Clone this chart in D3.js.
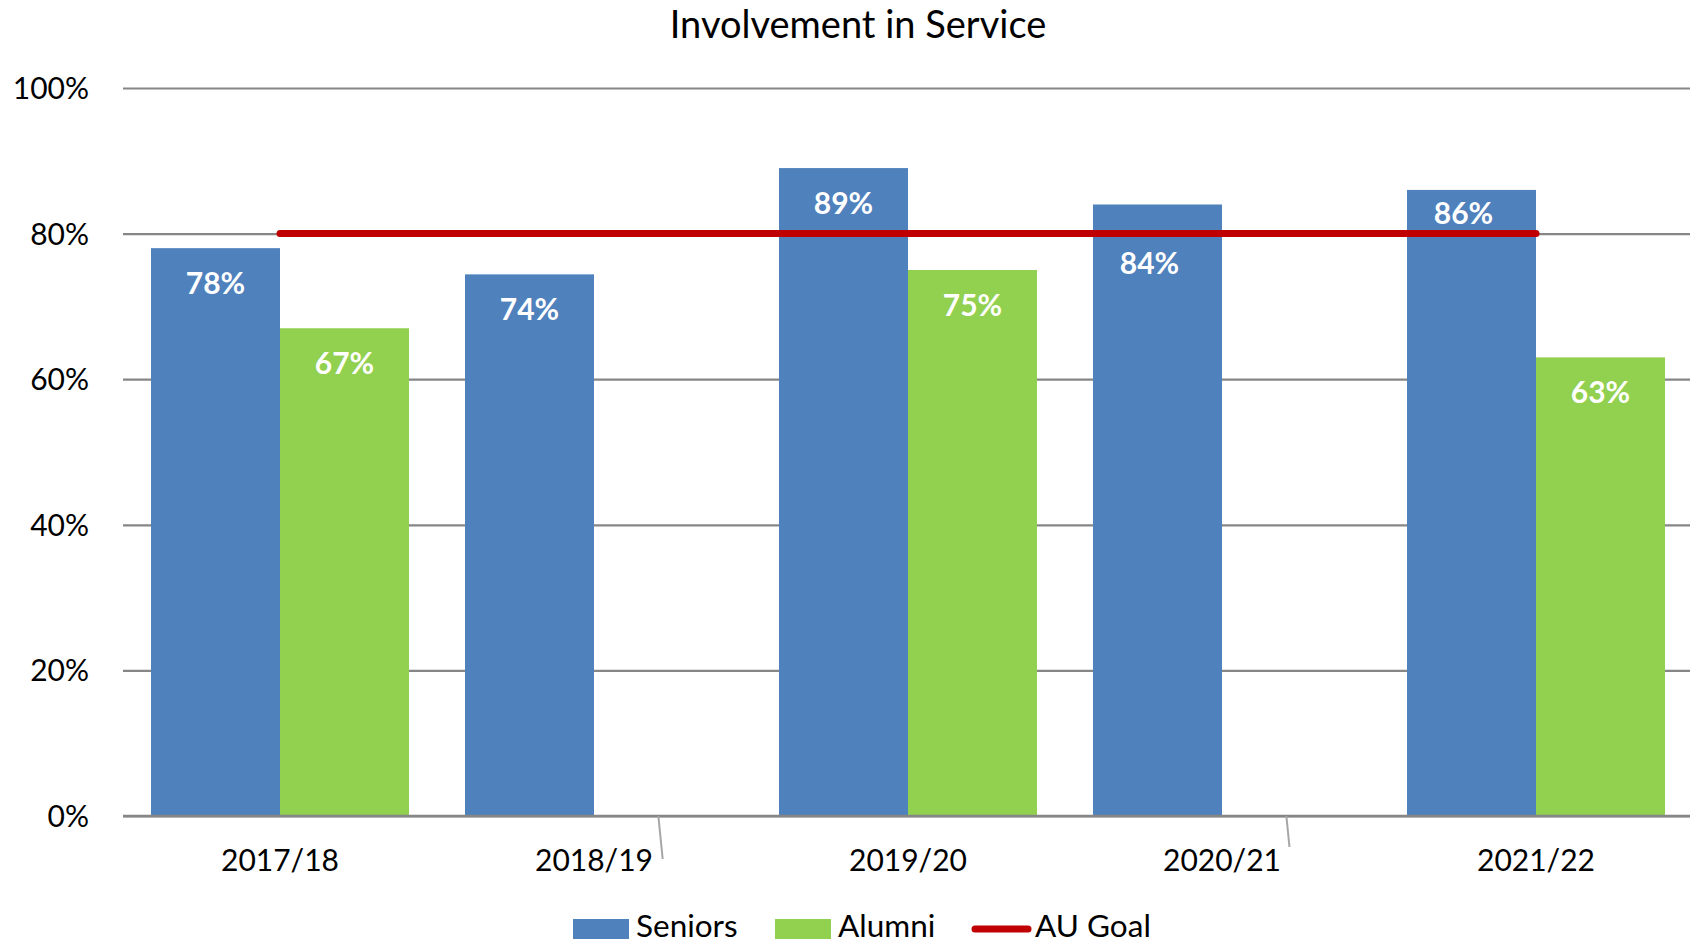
<!DOCTYPE html>
<html>
<head>
<meta charset="utf-8">
<script src="https://cdn.jsdelivr.net/npm/d3@7/dist/d3.min.js"></script>
<style>
  html, body { margin: 0; padding: 0; background: #fff; }
  svg { display: block; font-family: Lato, "Open Sans", sans-serif; }
</style>
</head>
<body>
<svg id="chart" width="1690" height="945"></svg>
<script>
const categories = ["2017/18", "2018/19", "2019/20", "2020/21", "2021/22"];
const seniors = [78, 74.4, 89, 84, 86];
const alumni = [67, null, 75, null, 63];
const goal = [80, 80, 80, 80, 80];
const yTicks = [0, 20, 40, 60, 80, 100];
const seriesNames = ["Seniors", "Alumni"];
const legendNames = ["Seniors", "Alumni", "AU Goal"];
const title = "Involvement in Service";

const colors = { Seniors: "#4F81BD", Alumni: "#92D050", goal: "#C00000", grid: "#868686" };
const W = 1690, H = 945;
const plot = { left: 123, right: 1693, top: 88, bottom: 816 };

const svg = d3.select("#chart");

const x = d3.scaleBand().domain(categories).range([plot.left, plot.right]).paddingInner(0).paddingOuter(0);
const x1 = d3.scaleBand().domain(seriesNames).range([0, x.bandwidth()]).paddingInner(0).paddingOuter(0.217);
const y = d3.scaleLinear().domain([0, 100]).range([plot.bottom, plot.top]);
const fmt = v => d3.format(".0f")(v) + "%";

// title
svg.append("text").attr("x", 858).attr("y", 38).attr("text-anchor", "middle")
  .attr("font-size", 38).attr("fill", "#000").text(title);

// gridlines + y labels
const yAxis = d3.axisLeft(y).tickValues(yTicks).tickSize(-(W - plot.left)).tickPadding(34)
  .tickFormat(d => d + "%");
const gy = svg.append("g").attr("transform", `translate(${plot.left},0)`).call(yAxis);
gy.select(".domain").remove();
gy.selectAll(".tick line").attr("stroke", colors.grid).attr("stroke-width", 2.2);
gy.selectAll(".tick text").attr("font-size", 30).attr("fill", "#000")
  .attr("font-family", "Lato, sans-serif").attr("dy", "0.35em");

// bars
const data = categories.map((c, i) => ({ c, Seniors: seniors[i], Alumni: alumni[i] }));
const groups = svg.append("g").selectAll("g").data(data).join("g")
  .attr("transform", d => `translate(${x(d.c)},0)`);
groups.selectAll("rect").data(d => seriesNames.filter(k => d[k] != null).map(k => ({ k, v: d[k] })))
  .join("rect")
  .attr("x", d => x1(d.k)).attr("width", x1.bandwidth())
  .attr("y", d => y(d.v)).attr("height", d => y(0) - y(d.v))
  .attr("fill", d => colors[d.k]);

// x axis
const xAxis = d3.axisBottom(x).tickSize(0).tickPadding(44);
const gx = svg.append("g").attr("transform", `translate(0,${plot.bottom})`).call(xAxis);
gx.select(".domain").remove();
gx.selectAll(".tick text").attr("font-size", 30).attr("fill", "#000").attr("font-family", "Lato, sans-serif")
  .attr("dy", "0.35em").attr("y", 44);
svg.append("line").attr("x1", plot.left).attr("x2", W).attr("y1", y(0)).attr("y2", y(0))
  .attr("stroke", colors.grid).attr("stroke-width", 2.5);

// stray slanted tick marks near 2018/19 and 2020/21
[{ c: "2018/19", len: 43 }, { c: "2020/21", len: 31 }].forEach(t => {
  const cx = x(t.c) + x.bandwidth() / 2 + x.bandwidth() * 0.205;
  svg.append("line").attr("x1", cx).attr("y1", y(0)).attr("x2", cx + t.len * 0.1).attr("y2", y(0) + t.len)
    .attr("stroke", "#a6a6a6").attr("stroke-width", 2);
});

// goal line
const line = d3.line().x((d, i) => x(categories[i]) + x.bandwidth() / 2).y(d => y(d));
svg.append("path").datum(goal).attr("d", line).attr("fill", "none")
  .attr("stroke", colors.goal).attr("stroke-width", 7).attr("stroke-linecap", "round");

// value labels (moved clear of the goal line where they would collide)
const goalY = y(goal[0]);
const labelG = svg.append("g");
data.forEach(d => {
  seriesNames.forEach(k => {
    if (d[k] == null) return;
    const top = y(d[k]);
    let cy = top + 35.6, dx = 0;
    if (Math.abs(cy - goalY) < 22) {
      dx = -8;
      if (goalY - top >= 40) cy = (top + goalY) / 2 + 1.5;
      else cy = goalY + 29.5;
    }
    labelG.append("text").attr("x", x(d.c) + x1(k) + x1.bandwidth() / 2 + dx).attr("y", cy)
      .attr("dy", "0.35em").attr("text-anchor", "middle").attr("font-size", 30)
      .attr("font-weight", "bold").attr("fill", "#fff").text(fmt(d[k]));
  });
});

// legend
const leg = svg.append("g").attr("transform", "translate(0,928)");
const legX = [573, 775, 972];
legendNames.forEach((name, i) => {
  const lx = legX[i];
  if (i < 2) {
    leg.append("rect").attr("x", lx).attr("y", -9).attr("width", 56).attr("height", 20).attr("fill", colors[name]);
  } else {
    leg.append("line").attr("x1", lx + 3).attr("x2", lx + 56).attr("y1", 1).attr("y2", 1)
      .attr("stroke", colors.goal).attr("stroke-width", 7).attr("stroke-linecap", "round");
  }
  leg.append("text").attr("x", lx + 63).attr("y", 0).attr("dy", "0.3em")
    .attr("font-size", 31.5).attr("fill", "#000").text(name);
});
</script>
</body>
</html>
